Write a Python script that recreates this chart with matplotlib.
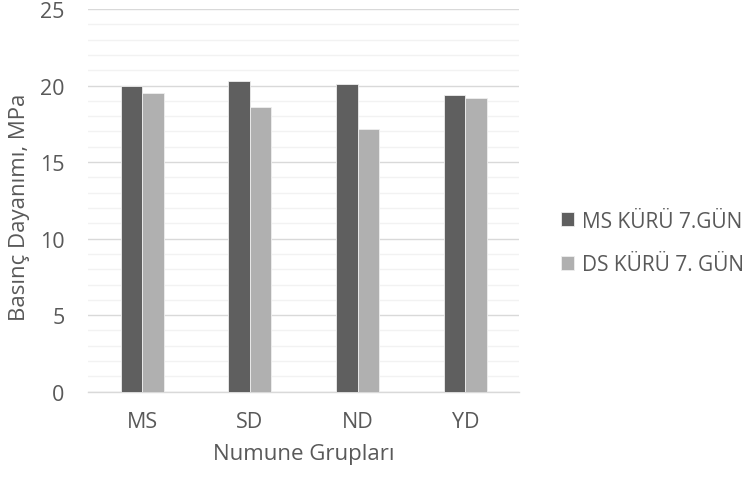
import matplotlib
matplotlib.use("Agg")
import matplotlib.pyplot as plt
import numpy as np

categories = ["MS", "SD", "ND", "YD"]
ms_values = [20.0, 20.27, 20.1, 19.38]
ds_values = [19.53, 18.6, 17.14, 19.2]
series_names = ["MS KÜRÜ 7.GÜN", "DS KÜRÜ 7. GÜN"]

plt.rcParams['font.family'] = ['Open Sans', 'DejaVu Sans']
txt = '#595959'
W, H = 743, 481

fig = plt.figure(figsize=(W/100, H/100), dpi=100)
ax = fig.add_axes([88.3/W, 1-392.7/H, 431/W, 382.7/H])

x = np.arange(len(categories))
w = 0.2
ax.bar(x - w/2, ms_values, w, color='#5f5f5f', edgecolor='#eeeeee', linewidth=0.6, label=series_names[0], zorder=3)
ax.bar(x + w/2, ds_values, w, color='#b0b0b0', edgecolor='#eeeeee', linewidth=0.6, label=series_names[1], zorder=3)

ax.set_xlim(-0.5, 3.5)
ax.set_ylim(0, 25)
ax.set_yticks(np.arange(0, 26, 5))
ax.set_yticks(np.arange(0, 26, 1), minor=True)
ax.set_xticks(x)
ax.set_xticklabels(categories)
ax.grid(which='minor', axis='y', color='#f2f2f2', linewidth=1.0, zorder=0)
ax.grid(which='major', axis='y', color='#d9d9d9', linewidth=1.0, zorder=1)
for s in ['top', 'right', 'left']:
    ax.spines[s].set_visible(False)
ax.spines['bottom'].set_color('#d9d9d9')
ax.spines['bottom'].set_linewidth(1.0)

ax.tick_params(axis='both', which='both', length=0, labelsize=15.5, colors=txt)
ax.tick_params(axis='y', pad=17)
ax.tick_params(axis='x', pad=14)

ax.set_xlabel("Numune Grupları", fontsize=16, color=txt, va='center')
ax.xaxis.set_label_coords((303.5 - 88.3) / 431, (392.7 - 455) / 382.7)
ax.set_ylabel("Basınç Dayanımı, MPa", fontsize=16, color=txt, va='center')
ax.yaxis.set_label_coords((19 - 88.3) / 431, (392.7 - 207) / 382.7)

ax.legend(loc='center left', bbox_to_anchor=(561/W, 1-244/H), bbox_transform=fig.transFigure,
          frameon=False, fontsize=15, labelcolor=txt, handlelength=0.63, handleheight=0.63,
          handletextpad=0.38, labelspacing=1.1, borderpad=0, borderaxespad=0)

fig.savefig("out.png", dpi=100)
